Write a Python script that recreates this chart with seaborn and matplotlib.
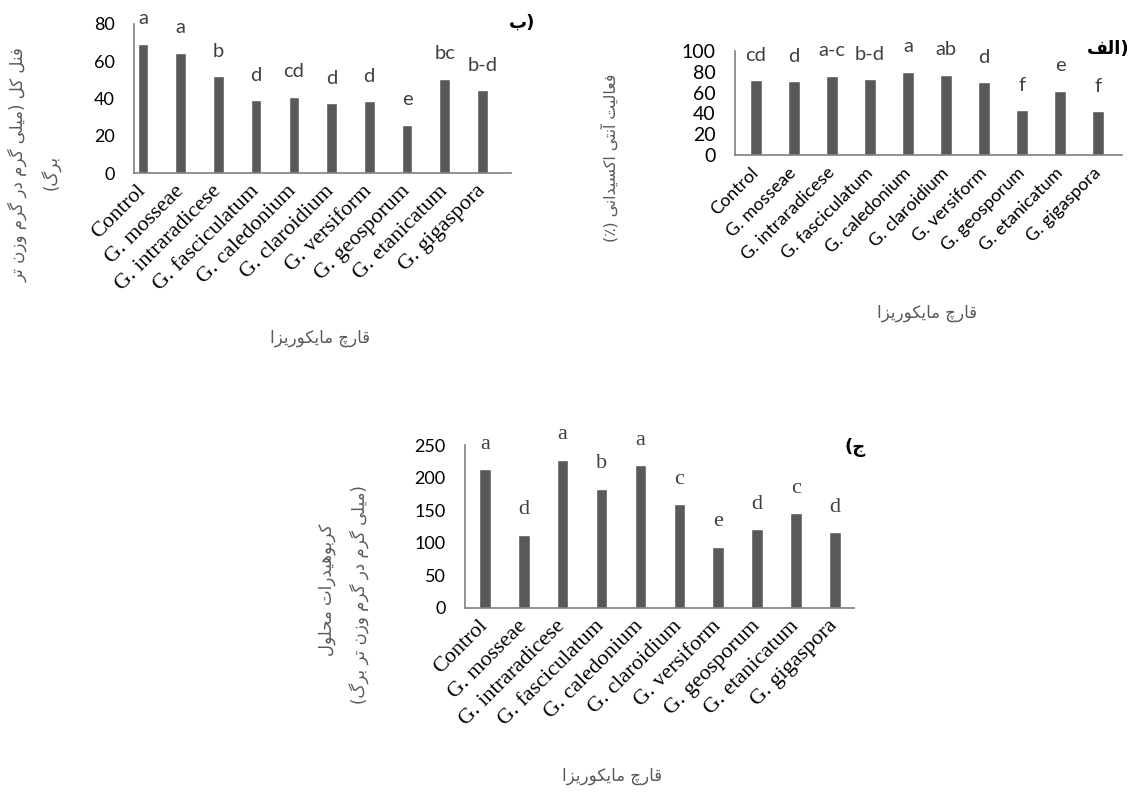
import matplotlib
matplotlib.use("Agg")
import matplotlib.pyplot as plt
import seaborn as sns
import pandas as pd

# ---------------- data ----------------
categories = ["Control", "G. mosseae", "G. intraradicese", "G. fasciculatum",
              "G. caledonium", "G. claroidium", "G. versiform", "G. geosporum",
              "G. etanicatum", "G. gigaspora"]

phenol_values = [69.5, 64.5, 52, 39, 41, 37.5, 38.5, 26, 50.5, 44.5]
phenol_letters = ["a", "a", "b", "d", "cd", "d", "d", "e", "bc", "b-d"]

antiox_values = [72, 71, 76, 73, 80, 77, 70, 43, 62, 42]
antiox_letters = ["cd", "d", "a-c", "b-d", "a", "ab", "d", "f", "e", "f"]

carb_values = [213, 112, 227, 183, 219, 159, 94, 121, 145, 116]
carb_letters = ["a", "d", "a", "b", "a", "c", "e", "d", "c", "d"]

phenol_ticks = [0, 20, 40, 60, 80]
antiox_ticks = [0, 20, 40, 60, 80, 100]
carb_ticks = [0, 50, 100, 150, 200, 250]

xlabel_fa = "قارچ مایکوریزا"
phenol_ylabel = ["فنل کل (میلی گرم در گرم وزن تر", "برگ)"]
antiox_ylabel = ["فعالیت آنتی اکسیدانی (٪)"]
carb_ylabel = ["کربوهیدرات محلول", "(میلی گرم در گرم وزن تر برگ)"]

# ---------------- minimal Arabic/Persian shaping ----------------
FORMS = {
    "\u0641": ("\uFED1", "\uFED2", "\uFED3", "\uFED4"),
    "\u0646": ("\uFEE5", "\uFEE6", "\uFEE7", "\uFEE8"),
    "\u0644": ("\uFEDD", "\uFEDE", "\uFEDF", "\uFEE0"),
    "\u06A9": ("\uFB8E", "\uFB8F", "\uFB90", "\uFB91"),
    "\u0645": ("\uFEE1", "\uFEE2", "\uFEE3", "\uFEE4"),
    "\u06CC": ("\uFBFC", "\uFBFD", "\uFBFE", "\uFBFF"),
    "\u06AF": ("\uFB92", "\uFB93", "\uFB94", "\uFB95"),
    "\u0631": ("\uFEAD", "\uFEAE", None, None),
    "\u062F": ("\uFEA9", "\uFEAA", None, None),
    "\u0648": ("\uFEED", "\uFEEE", None, None),
    "\u0632": ("\uFEAF", "\uFEB0", None, None),
    "\u062A": ("\uFE95", "\uFE96", "\uFE97", "\uFE98"),
    "\u0628": ("\uFE8F", "\uFE90", "\uFE91", "\uFE92"),
    "\u0639": ("\uFEC9", "\uFECA", "\uFECB", "\uFECC"),
    "\u0627": ("\uFE8D", "\uFE8E", None, None),
    "\u0622": ("\uFE81", "\uFE82", None, None),
    "\u0633": ("\uFEB1", "\uFEB2", "\uFEB3", "\uFEB4"),
    "\u0647": ("\uFEE9", "\uFEEA", "\uFEEB", "\uFEEC"),
    "\u062D": ("\uFEA1", "\uFEA2", "\uFEA3", "\uFEA4"),
    "\u0642": ("\uFED5", "\uFED6", "\uFED7", "\uFED8"),
    "\u0686": ("\uFB7A", "\uFB7B", "\uFB7C", "\uFB7D"),
    "\u062C": ("\uFE9D", "\uFE9E", "\uFE9F", "\uFEA0"),
}


def shape(text):
    out = []
    n = len(text)
    for i, ch in enumerate(text):
        if ch not in FORMS:
            out.append(ch)
            continue
        iso, fin, ini, med = FORMS[ch]
        prev = text[i - 1] if i > 0 else ""
        nxt = text[i + 1] if i < n - 1 else ""
        join_prev = prev in FORMS and FORMS[prev][2] is not None
        join_next = nxt in FORMS and ini is not None
        if join_prev and join_next:
            out.append(med)
        elif join_prev:
            out.append(fin)
        elif join_next:
            out.append(ini)
        else:
            out.append(iso)
    return "".join(out)


def rtl(text):
    vis = shape(text)[::-1]
    return vis.translate(str.maketrans("()", ")("))


AR_FONT = ["DejaVu Sans"]
SANS = ["Lato", "DejaVu Sans"]
SERIF = ["Liberation Serif", "DejaVu Serif"]

sns.set_theme(style="white")
plt.rcParams["font.family"] = SANS

W, H = 1135, 792
fig = plt.figure(figsize=(W / 100, H / 100), dpi=100)
fig.patch.set_facecolor("white")

BAR = "#595959"
AXC = "#7f7f7f"
TXT_GRAY = "#595959"


def px_axes(x0, y0, x1, y1):
    return fig.add_axes([x0 / W, 1 - y1 / H, (x1 - x0) / W, (y1 - y0) / H])


def draw(ax, values, letters, ticks, xlim, width, tick_font, tick_size,
         let_font, let_size, xt_font, xt_size):
    df = pd.DataFrame({"cat": categories, "val": values})
    sns.barplot(data=df, x="cat", y="val", color=BAR, saturation=1,
                width=width, ax=ax, order=categories)
    ax.set_xlim(*xlim)
    ax.set_ylim(ticks[0], ticks[-1])
    ax.set_yticks(ticks)
    ax.set_yticklabels([str(t) for t in ticks], family=tick_font,
                       fontsize=tick_size, color="#000000")
    ax.set_xticks(range(len(categories)))
    ax.set_xticklabels(categories, rotation=45, ha="right", va="center",
                       rotation_mode="anchor", family=xt_font,
                       fontsize=xt_size, color="#000000")
    ax.tick_params(axis="y", length=0, pad=14)
    ax.tick_params(axis="x", length=0, pad=11)
    ax.set_xlabel("")
    ax.set_ylabel("")
    for s in ["top", "right"]:
        ax.spines[s].set_visible(False)
    for s in ["left", "bottom"]:
        ax.spines[s].set_color(AXC)
        ax.spines[s].set_linewidth(1.2)
    ax.set_facecolor("none")
    for i, (v, lab) in enumerate(zip(values, letters)):
        ax.annotate(lab, xy=(i, v), xytext=(0, 25), textcoords="offset pixels",
                    ha="center", va="center", family=let_font,
                    fontsize=let_size, color="#404040", annotation_clip=False)


# chart (ب) top-left
ax1 = px_axes(134, 24, 511, 173)
draw(ax1, phenol_values, phenol_letters, phenol_ticks, (-0.24, 9.76), 0.28,
     SANS, 13, SANS, 14.5, SERIF, 16)

# chart (الف) top-right
ax2 = px_axes(735, 51, 1122, 155)
draw(ax2, antiox_values, antiox_letters, antiox_ticks, (-0.55, 9.63), 0.31,
     SANS, 14, SANS, 14.5, SANS, 13)

# chart (ج) bottom
ax3 = px_axes(465, 445, 854, 608)
draw(ax3, carb_values, carb_letters, carb_ticks, (-0.51, 9.49), 0.30,
     SANS, 13, SERIF, 16, SERIF, 16)

# panel labels
fig.text(522 / W, 1 - 23 / H, rtl("ب") + ")", family=AR_FONT, fontsize=13,
         fontweight="bold", ha="center", va="center", color="#000000")
fig.text(1108 / W, 1 - 49 / H, rtl("الف") + ")", family=AR_FONT, fontsize=13,
         fontweight="bold", ha="center", va="center", color="#000000")
fig.text(855 / W, 1 - 447 / H, "(" + rtl("ج"), family=AR_FONT, fontsize=13,
         fontweight="bold", ha="center", va="center", color="#000000")

# axis titles (Persian)
fig.text(18 / W, 1 - 165 / H, rtl(phenol_ylabel[0]), rotation=90,
         family=AR_FONT, fontsize=12, ha="center", va="center", color=TXT_GRAY)
fig.text(52 / W, 1 - 172 / H, rtl(phenol_ylabel[1]), rotation=90,
         family=AR_FONT, fontsize=12, ha="center", va="center", color=TXT_GRAY)
fig.text(320 / W, 1 - 338 / H, rtl(xlabel_fa), family=AR_FONT, fontsize=12,
         ha="center", va="center", color=TXT_GRAY)

fig.text(610 / W, 1 - 158 / H, rtl(antiox_ylabel[0]), rotation=90,
         family=AR_FONT, fontsize=11.3, ha="center", va="center", color=TXT_GRAY)
fig.text(927 / W, 1 - 313 / H, rtl(xlabel_fa), family=AR_FONT, fontsize=12,
         ha="center", va="center", color=TXT_GRAY)

fig.text(327 / W, 1 - 590 / H, rtl(carb_ylabel[0]), rotation=90,
         family=AR_FONT, fontsize=12, ha="center", va="center", color=TXT_GRAY)
fig.text(360 / W, 1 - 595 / H, rtl(carb_ylabel[1]), rotation=90,
         family=AR_FONT, fontsize=12, ha="center", va="center", color=TXT_GRAY)
fig.text(612 / W, 1 - 776 / H, rtl(xlabel_fa), family=AR_FONT, fontsize=12,
         ha="center", va="center", color=TXT_GRAY)

fig.savefig("out.png", dpi=100, facecolor="white")
